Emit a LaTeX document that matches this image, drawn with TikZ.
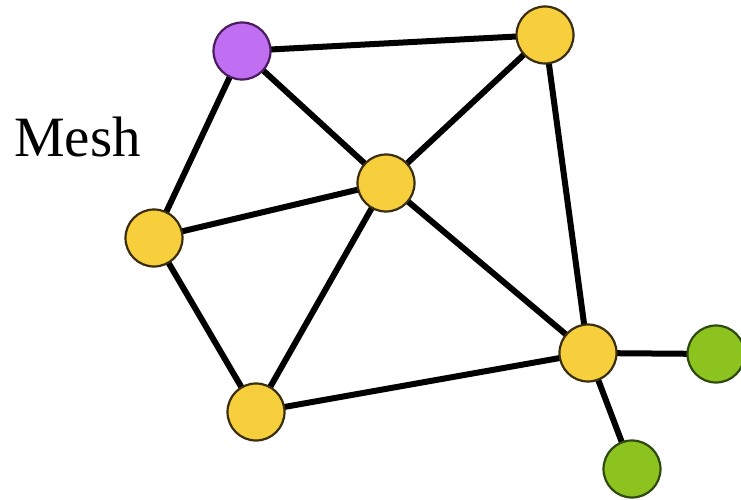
\documentclass[tikz,border=0pt]{standalone}
\usepackage{fontspec}
\setmainfont{Liberation Serif}
\definecolor{yel}{HTML}{F7CF3C}
\definecolor{yelb}{HTML}{3A2E10}
\definecolor{pur}{HTML}{C06EF2}
\definecolor{purb}{HTML}{4A1E5E}
\definecolor{grn}{HTML}{8CC31E}
\definecolor{grnb}{HTML}{2E4A10}
\begin{document}
\begin{tikzpicture}[x=1pt,y=-1pt,
  vtx/.style={circle,minimum size=57pt,inner sep=0pt,line width=2.2pt},
  yv/.style={vtx,fill=yel,draw=yelb},
  pv/.style={vtx,fill=pur,draw=purb},
  gv/.style={vtx,fill=grn,draw=grnb},
  edge/.style={line width=6pt,black}]
\useasboundingbox[fill=white] (0,0) rectangle (741,500);
\node[anchor=base west,inner sep=0pt,font=\fontsize{57}{64}\selectfont] (lbl) at (14,157) {Mesh};
\coordinate (P) at (242,51);
\coordinate (T) at (545,35);
\coordinate (C) at (386,183);
\coordinate (L) at (154,238);
\coordinate (B) at (256,412);
\coordinate (R) at (588,353);
\coordinate (G1) at (716,354);
\coordinate (G2) at (632,469);
\draw[edge] (P)--(T) (P)--(L) (P)--(C) (T)--(C) (T)--(R) (C)--(L) (C)--(B) (C)--(R) (L)--(B) (B)--(R) (R)--(G1) (R)--(G2);
\node[pv] (p) at (P) {};
\node[yv] (t) at (T) {};
\node[yv] (c) at (C) {};
\node[yv] (l) at (L) {};
\node[yv] (b) at (B) {};
\node[yv] (r) at (R) {};
\node[gv] (g1) at (G1) {};
\node[gv] (g2) at (G2) {};
\end{tikzpicture}
\end{document}
